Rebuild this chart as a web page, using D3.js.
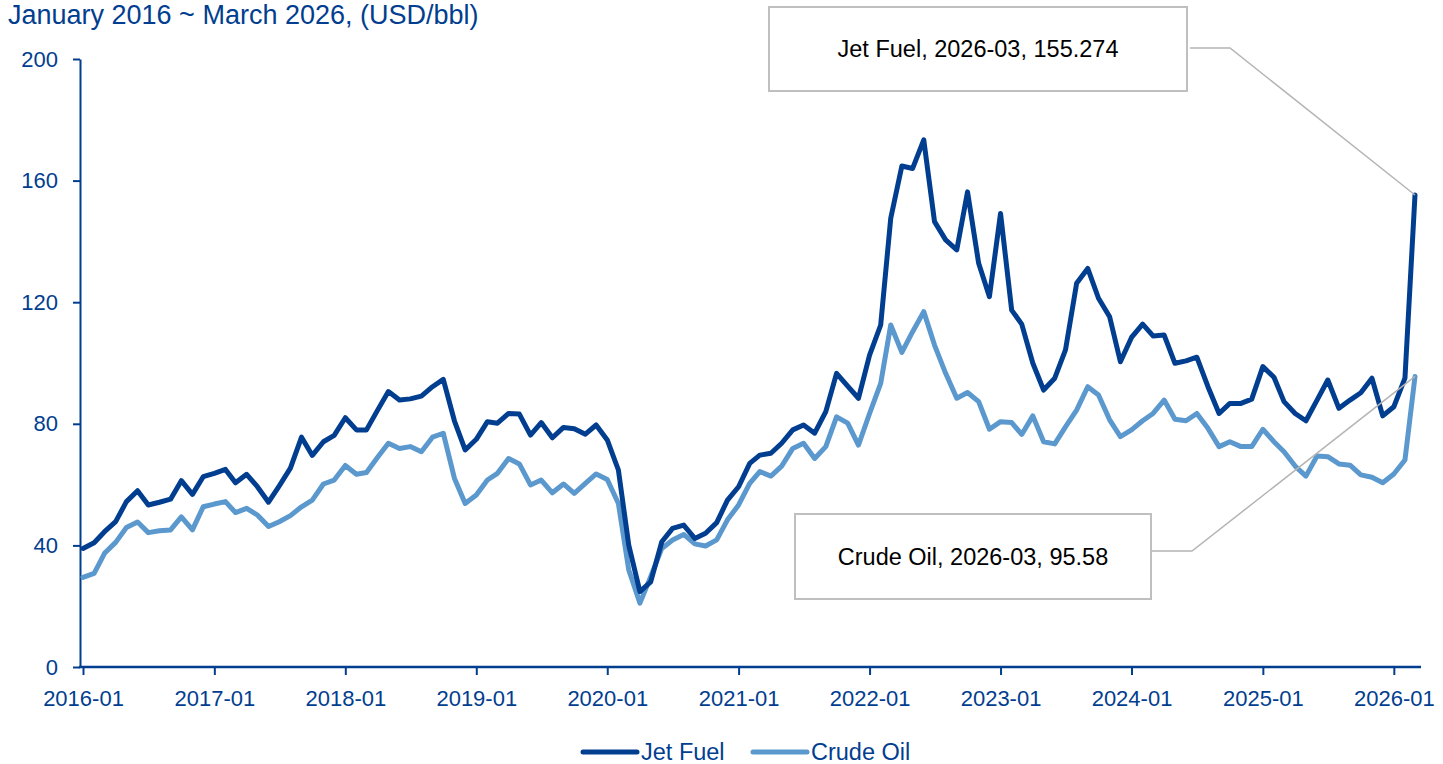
<!DOCTYPE html>
<html>
<head>
<meta charset="utf-8">
<script src="https://cdn.jsdelivr.net/npm/d3@7"></script>
<style>
  body { margin: 0; background: #fff; }
  text { font-family: "Liberation Sans", Arial, sans-serif; }
</style>
</head>
<body>
<div id="chart"></div>
<script>
// monthly prices, 2016-01 .. 2026-03 (USD/bbl)
const startMonth = "2016-01", endMonth = "2026-03";
const jetFuel = [
  39.0, 40.9, 44.5, 47.8, 54.4, 58.0, 53.3, 54.2, 55.2, 61.3, 56.8, 62.6,
  63.7, 65.0, 60.6, 63.4, 59.3, 54.2, 59.6, 65.4, 75.6, 69.6, 74.1, 76.2,
  82.0, 78.0, 78.0, 84.5, 90.6, 87.8, 88.2, 89.1, 92.2, 94.6, 81.0, 71.4,
  74.9, 80.7, 80.2, 83.4, 83.2, 76.3, 80.4, 75.4, 78.8, 78.4, 76.6, 79.6,
  74.7, 64.8, 40.0, 24.8, 28.0, 41.2, 45.6, 46.7, 42.3, 44.0, 47.5, 54.9,
  59.3, 67.0, 69.7, 70.3, 73.6, 78.0, 79.6, 76.9, 84.0, 96.6, 92.4, 88.4,
  102.6, 112.5, 147.6, 164.8, 164.0, 173.4, 146.5, 140.5, 137.2, 156.3, 132.8, 121.8,
  149.2, 117.4, 112.8, 99.9, 91.1, 95.0, 104.3, 126.2, 131.1, 121.3, 115.2, 100.4,
  108.4, 112.8, 108.9, 109.2, 99.9, 100.7, 101.9, 92.2, 83.4, 86.7, 86.7, 88.1,
  98.8, 95.3, 87.3, 83.4, 81.0, 87.8, 94.4, 85.1, 87.8, 90.2, 95.0, 82.6,
  85.6, 95.0, 155.274
];
const crudeOil = [
  29.5, 30.8, 37.4, 41.0, 45.9, 47.7, 44.2, 44.8, 45.1, 49.4, 45.1, 52.7,
  53.6, 54.4, 50.8, 52.2, 50.0, 46.2, 47.8, 49.8, 52.7, 54.9, 60.2, 61.5,
  66.3, 63.4, 64.0, 69.0, 73.6, 71.9, 72.5, 70.8, 75.6, 76.9, 62.1, 53.8,
  56.6, 61.5, 63.7, 68.6, 66.8, 59.9, 61.5, 57.3, 60.2, 57.1, 60.4, 63.5,
  61.7, 53.8, 31.9, 21.0, 29.7, 39.0, 41.8, 43.6, 40.5, 39.8, 41.8, 48.4,
  53.3, 60.4, 64.3, 62.8, 66.1, 71.9, 73.6, 68.6, 72.5, 82.3, 80.2, 73.0,
  83.4, 93.3, 112.5, 103.5, 110.3, 116.9, 105.9, 96.6, 88.4, 90.3, 87.3, 78.2,
  80.7, 80.4, 76.5, 82.6, 74.1, 73.4, 79.0, 84.5, 92.2, 89.5, 81.3, 75.8,
  78.0, 81.0, 83.4, 87.8, 81.5, 81.0, 83.4, 78.5, 72.5, 74.1, 72.5, 72.5,
  78.2, 74.1, 70.8, 66.1, 62.8, 69.4, 69.2, 66.8, 66.4, 63.2, 62.4, 60.6,
  63.5, 68.1, 95.58
];
const seriesNames = ["Jet Fuel", "Crude Oil"];
const yTicks = [0, 40, 80, 120, 160, 200];
const titleText = "January 2016 ~ March 2026, (USD/bbl)";

const parseMonth = d3.timeParse("%Y-%m");
const fmtMonth = d3.timeFormat("%Y-%m");
const months = d3.timeMonths(parseMonth(startMonth), d3.timeMonth.offset(parseMonth(endMonth), 1));

const W = 1443, H = 764;
const navy = "#023e8f", light = "#5b98cd";
const colors = [navy, light];

const svg = d3.select("#chart").append("svg")
  .attr("width", W).attr("height", H);
svg.append("rect").attr("width", W).attr("height", H).attr("fill", "#fff");

const x = d3.scaleTime([months[0], months[months.length - 1]], [83, 1415]);
const y = d3.scaleLinear([0, 200], [667, 59]);

// title
svg.append("text")
  .attr("x", 8).attr("y", 24)
  .attr("fill", navy)
  .style("font-size", "27px")
  .text(titleText);

// y axis
const yAxis = svg.append("g")
  .attr("transform", "translate(80,0)")
  .call(d3.axisLeft(y).tickValues(yTicks).tickSize(7).tickPadding(15).tickSizeOuter(0));
yAxis.selectAll("line").attr("stroke", navy).attr("stroke-width", 2);
yAxis.select(".domain").attr("stroke", navy).attr("stroke-width", 2);
yAxis.selectAll("text").attr("fill", navy).style("font-size", "22px");

// x axis
const xAxis = svg.append("g")
  .attr("transform", "translate(0,667)")
  .call(d3.axisBottom(x).ticks(d3.timeYear.every(1)).tickFormat(fmtMonth)
    .tickSize(8).tickPadding(15));
xAxis.select(".domain").remove();
xAxis.selectAll("line").attr("stroke", navy).attr("stroke-width", 2);
xAxis.selectAll("text").attr("fill", navy).style("font-size", "22px");
xAxis.append("line")
  .attr("x1", 79).attr("x2", 1421)
  .attr("stroke", navy).attr("stroke-width", 2.5);

// lines
const line = d3.line()
  .x((d, i) => x(months[i]))
  .y(d => y(d));

[crudeOil, jetFuel].forEach((vals, k) => {
  svg.append("path")
    .datum(vals)
    .attr("d", line)
    .attr("fill", "none")
    .attr("stroke", k === 0 ? light : navy)
    .attr("stroke-width", 5)
    .attr("stroke-linejoin", "round")
    .attr("stroke-linecap", "round");
});

// callouts
const last = months.length - 1;
const callouts = [
  { box: [769, 7, 418, 84], elbow: [1190, 1230, 48], label: `${seriesNames[0]}, ${fmtMonth(months[last])}, ${jetFuel[last]}`, val: jetFuel[last] },
  { box: [795, 514, 356, 85], elbow: [1150, 1192, 551], label: `${seriesNames[1]}, ${fmtMonth(months[last])}, ${crudeOil[last]}`, val: crudeOil[last] }
];
callouts.forEach(c => {
  const g = svg.append("g");
  g.append("polyline")
    .attr("points", [[c.elbow[0], c.elbow[2]], [c.elbow[1], c.elbow[2]], [x(months[last]), y(c.val)]].join(" "))
    .attr("fill", "none").attr("stroke", "#b4b4b4").attr("stroke-width", 1.5);
  g.append("rect")
    .attr("x", c.box[0]).attr("y", c.box[1])
    .attr("width", c.box[2]).attr("height", c.box[3])
    .attr("fill", "#fff").attr("stroke", "#bfbfbf").attr("stroke-width", 2);
  g.append("text")
    .attr("x", c.box[0] + c.box[2] / 2).attr("y", c.box[1] + c.box[3] / 2)
    .attr("dy", "0.35em")
    .attr("text-anchor", "middle")
    .attr("fill", "#000")
    .style("font-size", "23.5px")
    .text(c.label);
});

// legend
const legend = svg.append("g").attr("transform", "translate(0,752)");
const legX = [583, 753];
seriesNames.forEach((name, i) => {
  legend.append("line")
    .attr("x1", legX[i]).attr("x2", legX[i] + 54)
    .attr("stroke", colors[i]).attr("stroke-width", 5)
    .attr("stroke-linecap", "round");
  legend.append("text")
    .attr("x", legX[i] + 58).attr("dy", "0.35em")
    .attr("fill", navy)
    .style("font-size", "23.5px")
    .text(name);
});
</script>
</body>
</html>
